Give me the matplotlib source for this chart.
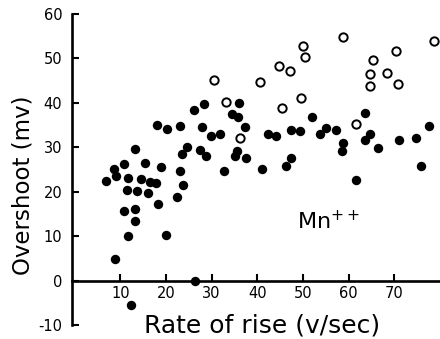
import matplotlib
matplotlib.use("Agg")
import matplotlib.pyplot as plt

# Filled circles: (rate of rise v/sec, overshoot mV)
filled_rate = [6.8, 8.5, 9.0, 10.8, 11.7, 11.4, 10.9, 11.7, 8.8, 12.4,
               13.3, 13.6, 13.3, 13.1, 14.6, 15.5, 16.0, 16.5, 17.9, 18.3,
               19.0, 20.0, 18.1, 20.2, 22.3, 23.0, 23.1, 23.7, 24.6, 23.6,
               26.3, 26.1, 28.3, 27.8, 27.5, 28.7, 29.8, 31.8, 32.6, 34.4,
               35.8, 36.0, 37.4, 35.6, 35.1, 37.6, 41.0, 42.4, 44.2, 47.4,
               49.4, 46.3, 47.4, 51.9, 53.8, 55.0, 57.2, 58.7, 58.5, 63.5,
               63.5, 64.7, 66.4, 61.6, 71.1, 74.8, 77.6, 75.8]
filled_overshoot = [22.3, 25.0, 23.6, 26.2, 23.0, 20.3, 15.7, 10.0, 4.8, -5.6,
                    29.7, 20.1, 16.2, 13.4, 22.9, 26.5, 19.6, 22.2, 21.9, 17.3,
                    25.6, 10.2, 35.1, 34.2, 18.7, 34.9, 24.7, 21.4, 30.1, 28.5,
                    0.0, 38.5, 39.8, 34.5, 29.3, 28.1, 32.6, 33.1, 24.7, 37.4,
                    36.8, 40.0, 34.6, 29.1, 28.1, 27.5, 25.0, 33.1, 32.6, 34.0,
                    33.6, 25.9, 27.5, 36.9, 32.9, 34.3, 33.8, 30.9, 29.1, 37.7,
                    31.6, 32.9, 29.8, 22.7, 31.7, 32.0, 34.9, 25.9]

# Open circles
open_rate = [30.4, 33.2, 36.2, 40.5, 45.3, 49.5, 44.7, 47.2, 49.9, 50.5,
             58.7, 61.6, 65.4, 64.7, 64.6, 68.3, 70.4, 70.9, 78.6]
open_overshoot = [45.2, 40.3, 32.1, 44.7, 38.8, 41.0, 48.3, 47.1, 52.8, 50.3,
                  54.8, 35.3, 49.6, 46.4, 43.8, 46.7, 51.6, 44.2, 54.0]

x_ticks = [10, 20, 30, 40, 50, 60, 70]
y_ticks = [-10, 0, 10, 20, 30, 40, 50, 60]
y_ticklabels = ["-10", "0", "10", "20", "30", "40", "50", "60"]

fig = plt.figure(figsize=(4.4, 3.39), dpi=100)
ax = fig.add_axes([72/440, 14/339, (439-72)/440, (325-14)/339])

ax.scatter(filled_rate, filled_overshoot, s=46, color="black", zorder=3,
           clip_on=False, linewidths=0)
ax.scatter(open_rate, open_overshoot, s=36, facecolor="white",
           edgecolor="black", linewidths=1.4, zorder=3, clip_on=False)

ax.set_xlim(-0.6, 79.8)
ax.set_ylim(-10, 60)

ax.spines["top"].set_visible(False)
ax.spines["right"].set_visible(False)
ax.spines["bottom"].set_position(("data", 0))
ax.spines["left"].set_linewidth(1.9)
ax.spines["bottom"].set_linewidth(1.9)

ax.set_xticks(x_ticks)
ax.set_xticklabels([str(t) for t in x_ticks])
ax.set_yticks(y_ticks)
ax.set_yticklabels(y_ticklabels)
ax.tick_params(axis="both", direction="in", length=5, width=1.5,
               labelsize=10.5, colors="black")
ax.tick_params(axis="x", pad=4)
ax.tick_params(axis="y", pad=7)

fig.text(262/440, 1 - 325/339, "Rate of rise (v/sec)", ha="center",
         va="center", fontsize=18)
fig.text(23/440, 1 - 185/339, "Overshoot (mv)", ha="center", va="center",
         rotation=90, fontsize=16.5)
ax.text(55.6, 13.4, r"Mn$^{++}$", ha="center", va="center", fontsize=16)

fig.savefig("out.png", dpi=100)
